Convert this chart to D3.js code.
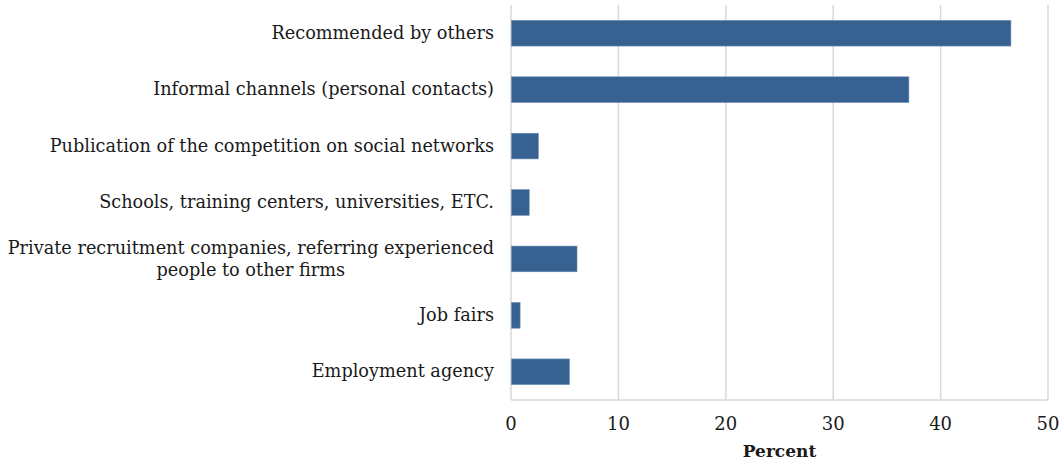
<!DOCTYPE html>
<html>
<head>
<meta charset="utf-8">
<script src="https://cdn.jsdelivr.net/npm/d3@7"></script>
<style>
  body { margin: 0; background: #fff; }
  svg { font-family: "DejaVu Serif", serif; }
</style>
</head>
<body>
<div id="chart"></div>
<script>
// channels used to find workers (top to bottom)
var categories = [
  "Recommended by others",
  "Informal channels (personal contacts)",
  "Publication of the competition on social networks",
  "Schools, training centers, universities, ETC.",
  "Private recruitment companies, referring experienced|people to other firms",
  "Job fairs",
  "Employment agency"
];
var values = [46.5, 37.0, 2.5, 1.65, 6.1, 0.8, 5.4];
var xTicks = [0, 10, 20, 30, 40, 50];

var width = 1062, height = 466;
var margin = { top: 5, right: 14, bottom: 66, left: 511 };

var data = categories.map((c, i) => ({ name: c, value: values[i] }));

var svg = d3.select("#chart").append("svg")
  .attr("width", width)
  .attr("height", height);

var x = d3.scaleLinear()
  .domain([0, 50])
  .range([margin.left, width - margin.right]);

var y = d3.scaleBand()
  .domain(categories)
  .range([margin.top, height - margin.bottom])
  .paddingInner(0.545)
  .paddingOuter(0.2725);

// grid lines
svg.append("g")
  .selectAll("line")
  .data(xTicks)
  .join("line")
    .attr("x1", d => x(d))
    .attr("x2", d => x(d))
    .attr("y1", margin.top)
    .attr("y2", height - margin.bottom)
    .attr("stroke", "#d9d9d9")
    .attr("stroke-width", 1.5);

// bottom frame line
svg.append("line")
  .attr("x1", x(0))
  .attr("x2", x(50))
  .attr("y1", height - margin.bottom)
  .attr("y2", height - margin.bottom)
  .attr("stroke", "#d9d9d9")
  .attr("stroke-width", 1.5);

// bars
svg.append("g")
  .selectAll("rect")
  .data(data)
  .join("rect")
    .attr("x", x(0) + 0.5)
    .attr("y", d => y(d.name))
    .attr("width", d => x(d.value) - x(0))
    .attr("height", y.bandwidth())
    .attr("fill", "#366190")
    .attr("stroke", "#6a8db5")
    .attr("stroke-width", 0.6);

// category labels (some wrap onto two lines)
var labels = svg.append("g")
  .attr("font-size", 17.7)
  .attr("fill", "#1a1a1a")
  .selectAll("text")
  .data(data)
  .join("text")
    .attr("text-anchor", "middle");

labels.each(function(d) {
  var lines = d.name.split("|");
  var t = d3.select(this);
  var cy = y(d.name) + y.bandwidth() / 2;
  var lh = 22;
  lines.forEach((l, i) => {
    t.append("tspan")
      .attr("y", cy + (i - (lines.length - 1) / 2) * lh)
      .attr("dy", "0.32em")
      .text(l);
  });
  // right align the whole block, centre the lines inside it
  var w = d3.max(t.selectAll("tspan").nodes(), n => n.getComputedTextLength());
  t.selectAll("tspan").attr("x", 494 - w / 2);
});

// tick labels
svg.append("g")
  .attr("font-size", 18)
  .attr("fill", "#1a1a1a")
  .attr("text-anchor", "middle")
  .selectAll("text")
  .data(xTicks)
  .join("text")
    .attr("x", d => x(d))
    .attr("y", 430)
    .text(d => d);

svg.append("text")
  .attr("x", (x(0) + x(50)) / 2)
  .attr("y", 457)
  .attr("text-anchor", "middle")
  .attr("font-size", 17)
  .attr("font-weight", "bold")
  .attr("fill", "#1a1a1a")
  .text("Percent");
</script>
</body>
</html>
